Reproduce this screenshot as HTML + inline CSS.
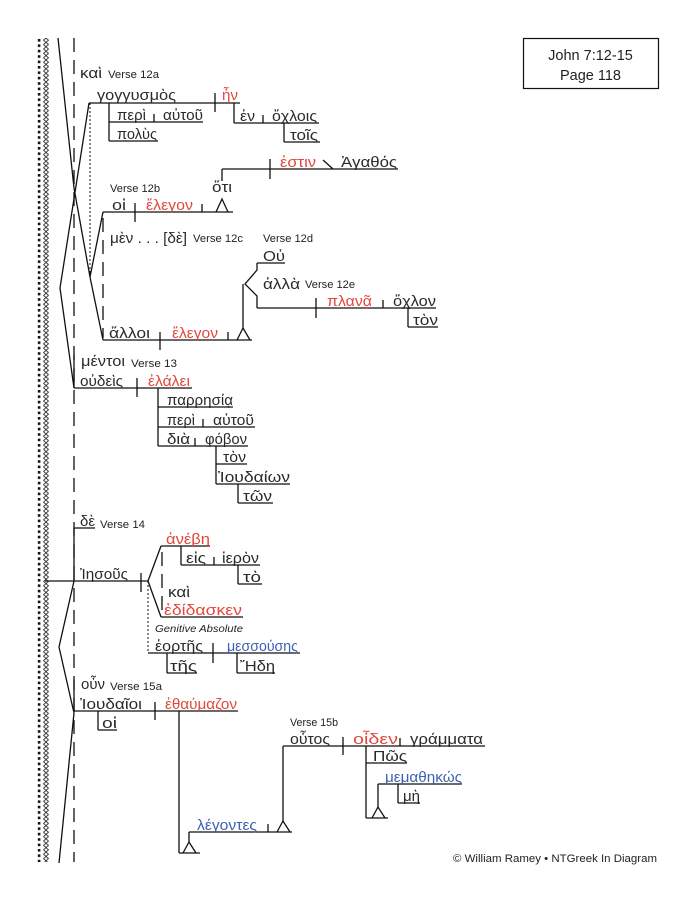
<!DOCTYPE html>
<html>
<head>
<meta charset="utf-8">
<style>
html,body{margin:0;padding:0;background:#fff;}
svg{display:block;}
.g{font-family:"Liberation Sans","DejaVu Sans",sans-serif;font-size:15px;fill:#2a2a2a;}
.r{fill:#e2473b;}
.b{fill:#3d62b3;}
.v{font-family:"Liberation Sans",sans-serif;font-size:11px;fill:#222;}
.gi{font-family:"Liberation Sans",sans-serif;font-size:10.5px;font-style:italic;fill:#222;}
.bx{font-family:"Liberation Sans",sans-serif;font-size:14.5px;fill:#222;}
.ft{font-family:"Liberation Sans",sans-serif;font-size:11px;fill:#222;}
</style>
</head>
<body>
<svg width="693" height="899" viewBox="0 0 693 899" xmlns="http://www.w3.org/2000/svg">
<defs>
<pattern id="dots" x="37.5" y="38" width="4" height="5.4" patternUnits="userSpaceOnUse">
<rect x="0.3" y="1" width="2.6" height="2.6" fill="#111"/>
</pattern>
<pattern id="dia" x="43" y="38" width="6" height="4.4" patternUnits="userSpaceOnUse">
<path d="M3,0 L5.5,2.2 L3,4.4 L0.5,2.2 Z" fill="none" stroke="#333" stroke-width="0.9"/>
</pattern>
</defs>
<rect width="693" height="899" fill="#fff"/>
<!-- left border -->
<rect x="37.5" y="38" width="4" height="824" fill="url(#dots)"/>
<rect x="43" y="38" width="6" height="824" fill="url(#dia)"/>

<g stroke="#111" stroke-width="1.3" fill="none">
<!-- main dashed line -->
<line x1="74" y1="38" x2="74" y2="862" stroke-dasharray="14,8"/>
<!-- solid conjunction segments -->
<line x1="74" y1="355" x2="74" y2="388"/>
<line x1="74" y1="528" x2="74" y2="581"/>
<line x1="74" y1="680" x2="74" y2="711"/>
<!-- diagonals top -->
<polyline points="58,38 74,188 90,277"/>
<polyline points="89,103 60,288 74,388"/>
<line x1="90" y1="277" x2="103" y2="212"/>
<line x1="90" y1="277" x2="103" y2="340"/>
<line x1="90" y1="103" x2="90" y2="277" stroke-width="1" stroke-dasharray="2,2"/>
<line x1="103" y1="218" x2="103" y2="338" stroke-dasharray="14,8"/>
<!-- verse 12a -->
<line x1="89" y1="103" x2="240" y2="103"/>
<line x1="215" y1="93" x2="215" y2="112"/>
<line x1="109" y1="103" x2="109" y2="141"/>
<line x1="109" y1="122" x2="203" y2="122"/>
<line x1="154" y1="114" x2="154" y2="122"/>
<line x1="109" y1="141" x2="158" y2="141"/>
<line x1="234" y1="103" x2="234" y2="123"/>
<line x1="234" y1="123" x2="319" y2="123"/>
<line x1="263" y1="115" x2="263" y2="123"/>
<line x1="284" y1="123" x2="284" y2="142"/>
<line x1="284" y1="142" x2="320" y2="142"/>
<!-- hoti clause -->
<line x1="222" y1="169" x2="398" y2="169"/>
<line x1="222" y1="169" x2="222" y2="181"/>
<line x1="270" y1="159" x2="270" y2="179"/>
<line x1="323" y1="160" x2="333" y2="169"/>
<polyline points="216,212 222,199 228,212"/>
<!-- hoi elegon -->
<line x1="103" y1="212" x2="233" y2="212"/>
<line x1="135" y1="203" x2="135" y2="222"/>
<line x1="202" y1="204" x2="202" y2="212"/>
<!-- Ou / alla -->
<line x1="257" y1="263" x2="285" y2="263"/>
<polyline points="257,263 257,270 245,284 257,296 257,308"/>
<line x1="257" y1="308" x2="436" y2="308"/>
<line x1="316" y1="298" x2="316" y2="318"/>
<line x1="383" y1="300" x2="383" y2="308"/>
<line x1="408" y1="308" x2="408" y2="327"/>
<line x1="408" y1="327" x2="438" y2="327"/>
<line x1="243" y1="284" x2="243" y2="329"/>
<polyline points="237,340 243,328 250,340"/>
<!-- alloi elegon -->
<line x1="103" y1="340" x2="252" y2="340"/>
<line x1="160" y1="332" x2="160" y2="350"/>
<line x1="228" y1="332" x2="228" y2="340"/>
<!-- verse 13 -->
<line x1="74" y1="388" x2="192" y2="388"/>
<line x1="137" y1="378" x2="137" y2="397"/>
<line x1="158" y1="388" x2="158" y2="446"/>
<line x1="158" y1="407" x2="233" y2="407"/>
<line x1="158" y1="427" x2="255" y2="427"/>
<line x1="203" y1="419" x2="203" y2="427"/>
<line x1="158" y1="446" x2="248" y2="446"/>
<line x1="195" y1="438" x2="195" y2="446"/>
<line x1="216" y1="446" x2="216" y2="484"/>
<line x1="216" y1="464" x2="247" y2="464"/>
<line x1="216" y1="484" x2="290" y2="484"/>
<line x1="238" y1="484" x2="238" y2="503"/>
<line x1="238" y1="503" x2="273" y2="503"/>
<!-- verse 14 -->
<line x1="74" y1="528" x2="95" y2="528"/>
<line x1="45" y1="581" x2="148" y2="581"/>
<line x1="141" y1="573" x2="141" y2="592"/>
<line x1="148" y1="581" x2="161" y2="546"/>
<line x1="161" y1="546" x2="210" y2="546"/>
<line x1="162" y1="552" x2="162" y2="610" stroke-dasharray="14,8"/>
<line x1="148" y1="581" x2="161" y2="617"/>
<line x1="161" y1="617" x2="243" y2="617"/>
<line x1="181" y1="546" x2="181" y2="565"/>
<line x1="181" y1="565" x2="260" y2="565"/>
<line x1="214" y1="557" x2="214" y2="565"/>
<line x1="238" y1="565" x2="238" y2="584"/>
<line x1="238" y1="584" x2="262" y2="584"/>
<line x1="148" y1="581" x2="148" y2="653" stroke-width="1" stroke-dasharray="2,2"/>
<line x1="148" y1="653" x2="300" y2="653"/>
<line x1="213" y1="643" x2="213" y2="663"/>
<line x1="167" y1="653" x2="167" y2="673"/>
<line x1="167" y1="673" x2="197" y2="673"/>
<line x1="237" y1="653" x2="237" y2="673"/>
<line x1="237" y1="673" x2="275" y2="673"/>
<!-- left vertex verse 14/15 -->
<polyline points="74,581 59,647 74,713 59,863"/>
<!-- verse 15a -->
<line x1="74" y1="711" x2="238" y2="711"/>
<line x1="155" y1="702" x2="155" y2="720"/>
<line x1="98" y1="711" x2="98" y2="730"/>
<line x1="98" y1="730" x2="117" y2="730"/>
<line x1="179" y1="711" x2="179" y2="853"/>
<line x1="179" y1="853" x2="200" y2="853"/>
<polyline points="183,853 189,842 196,853"/>
<line x1="189" y1="832" x2="189" y2="842"/>
<line x1="189" y1="832" x2="292" y2="832"/>
<line x1="268" y1="824" x2="268" y2="832"/>
<polyline points="277,832 283,821 290,832"/>
<line x1="283" y1="746" x2="283" y2="821"/>
<!-- verse 15b -->
<line x1="283" y1="746" x2="485" y2="746"/>
<line x1="343" y1="737" x2="343" y2="755"/>
<line x1="400" y1="738" x2="400" y2="746"/>
<line x1="366" y1="746" x2="366" y2="818"/>
<line x1="366" y1="763" x2="407" y2="763"/>
<line x1="366" y1="818" x2="388" y2="818"/>
<polyline points="372,818 378,807 385,818"/>
<line x1="378" y1="784" x2="378" y2="807"/>
<line x1="378" y1="784" x2="462" y2="784"/>
<line x1="398" y1="784" x2="398" y2="803"/>
<line x1="398" y1="803" x2="420" y2="803"/>
<!-- title box -->
<rect x="523.5" y="38.5" width="135" height="50" stroke-width="1.2"/>
</g>

<!-- title -->
<text class="bx" x="590.5" y="60" text-anchor="middle">John 7:12-15</text>
<text class="bx" x="590.5" y="80" text-anchor="middle">Page 118</text>

<!-- texts -->
<text class="g" x="80" y="78" textLength="22" lengthAdjust="spacingAndGlyphs">καὶ</text>
<text class="v" x="108" y="78" textLength="51" lengthAdjust="spacingAndGlyphs">Verse 12a</text>
<text class="g" x="97" y="100" textLength="79" lengthAdjust="spacingAndGlyphs">γογγυσμὸς</text>
<text class="g r" x="222" y="100" textLength="16" lengthAdjust="spacingAndGlyphs">ἦν</text>
<text class="g" x="117" y="120" textLength="29" lengthAdjust="spacingAndGlyphs">περὶ</text>
<text class="g" x="163" y="120" textLength="40" lengthAdjust="spacingAndGlyphs">αὐτοῦ</text>
<text class="g" x="117" y="139" textLength="40" lengthAdjust="spacingAndGlyphs">πολὺς</text>
<text class="g" x="240" y="121" textLength="15" lengthAdjust="spacingAndGlyphs">ἐν</text>
<text class="g" x="272" y="121" textLength="45" lengthAdjust="spacingAndGlyphs">ὄχλοις</text>
<text class="g" x="290" y="140" textLength="28" lengthAdjust="spacingAndGlyphs">τοῖς</text>
<text class="g r" x="280" y="167" textLength="36" lengthAdjust="spacingAndGlyphs">ἐστιν</text>
<text class="g" x="341" y="167" textLength="56" lengthAdjust="spacingAndGlyphs">Ἀγαθός</text>
<text class="g" x="212" y="192" textLength="20" lengthAdjust="spacingAndGlyphs">ὅτι</text>
<text class="v" x="110" y="192" textLength="50" lengthAdjust="spacingAndGlyphs">Verse 12b</text>
<text class="g" x="112" y="210" textLength="14" lengthAdjust="spacingAndGlyphs">οἱ</text>
<text class="g r" x="146" y="210" textLength="47" lengthAdjust="spacingAndGlyphs">ἔλεγον</text>
<text class="g" x="110" y="243" textLength="77" lengthAdjust="spacingAndGlyphs">μὲν . . . [δὲ]</text>
<text class="v" x="193" y="242" textLength="50" lengthAdjust="spacingAndGlyphs">Verse 12c</text>
<text class="v" x="263" y="242" textLength="50" lengthAdjust="spacingAndGlyphs">Verse 12d</text>
<text class="g" x="263" y="261" textLength="22" lengthAdjust="spacingAndGlyphs">Οὐ</text>
<text class="g" x="263" y="289" textLength="37" lengthAdjust="spacingAndGlyphs">ἀλλὰ</text>
<text class="v" x="305" y="288" textLength="50" lengthAdjust="spacingAndGlyphs">Verse 12e</text>
<text class="g r" x="327" y="306" textLength="45" lengthAdjust="spacingAndGlyphs">πλανᾷ</text>
<text class="g" x="393" y="306" textLength="43" lengthAdjust="spacingAndGlyphs">ὄχλον</text>
<text class="g" x="413" y="325" textLength="25" lengthAdjust="spacingAndGlyphs">τὸν</text>
<text class="g" x="109" y="338" textLength="41" lengthAdjust="spacingAndGlyphs">ἄλλοι</text>
<text class="g r" x="172" y="338" textLength="46" lengthAdjust="spacingAndGlyphs">ἔλεγον</text>
<text class="g" x="81" y="366" textLength="44" lengthAdjust="spacingAndGlyphs">μέντοι</text>
<text class="v" x="131" y="367" textLength="46" lengthAdjust="spacingAndGlyphs">Verse 13</text>
<text class="g" x="80" y="386" textLength="43" lengthAdjust="spacingAndGlyphs">οὐδεὶς</text>
<text class="g r" x="148" y="386" textLength="42" lengthAdjust="spacingAndGlyphs">ἐλάλει</text>
<text class="g" x="167" y="405" textLength="66" lengthAdjust="spacingAndGlyphs">παρρησίᾳ</text>
<text class="g" x="167" y="425" textLength="28" lengthAdjust="spacingAndGlyphs">περὶ</text>
<text class="g" x="213" y="425" textLength="41" lengthAdjust="spacingAndGlyphs">αὐτοῦ</text>
<text class="g" x="167" y="444" textLength="23" lengthAdjust="spacingAndGlyphs">διὰ</text>
<text class="g" x="205" y="444" textLength="42" lengthAdjust="spacingAndGlyphs">φόβον</text>
<text class="g" x="223" y="462" textLength="23" lengthAdjust="spacingAndGlyphs">τὸν</text>
<text class="g" x="218" y="482" textLength="72" lengthAdjust="spacingAndGlyphs">Ἰουδαίων</text>
<text class="g" x="243" y="501" textLength="29" lengthAdjust="spacingAndGlyphs">τῶν</text>
<text class="g" x="80" y="526" textLength="15" lengthAdjust="spacingAndGlyphs">δὲ</text>
<text class="v" x="100" y="528" textLength="45" lengthAdjust="spacingAndGlyphs">Verse 14</text>
<text class="g r" x="166" y="544" textLength="44" lengthAdjust="spacingAndGlyphs">ἀνέβη</text>
<text class="g" x="186" y="563" textLength="20" lengthAdjust="spacingAndGlyphs">εἰς</text>
<text class="g" x="222" y="563" textLength="37" lengthAdjust="spacingAndGlyphs">ἱερὸν</text>
<text class="g" x="243" y="582" textLength="18" lengthAdjust="spacingAndGlyphs">τὸ</text>
<text class="g" x="80" y="579" textLength="48" lengthAdjust="spacingAndGlyphs">Ἰησοῦς</text>
<text class="g" x="168" y="597" textLength="22" lengthAdjust="spacingAndGlyphs">καὶ</text>
<text class="g r" x="164" y="615" textLength="78" lengthAdjust="spacingAndGlyphs">ἐδίδασκεν</text>
<text class="gi" x="155" y="632" textLength="88" lengthAdjust="spacingAndGlyphs">Genitive Absolute</text>
<text class="g" x="155" y="651" textLength="48" lengthAdjust="spacingAndGlyphs">ἑορτῆς</text>
<text class="g b" x="227" y="651" textLength="71" lengthAdjust="spacingAndGlyphs">μεσσούσης</text>
<text class="g" x="170" y="671" textLength="27" lengthAdjust="spacingAndGlyphs">τῆς</text>
<text class="g" x="240" y="671" textLength="35" lengthAdjust="spacingAndGlyphs">Ἤδη</text>
<text class="g" x="81" y="689" textLength="24" lengthAdjust="spacingAndGlyphs">οὖν</text>
<text class="v" x="110" y="690" textLength="52" lengthAdjust="spacingAndGlyphs">Verse 15a</text>
<text class="g" x="80" y="709" textLength="62" lengthAdjust="spacingAndGlyphs">Ἰουδαῖοι</text>
<text class="g r" x="165" y="709" textLength="72" lengthAdjust="spacingAndGlyphs">ἐθαύμαζον</text>
<text class="g" x="102" y="728" textLength="15" lengthAdjust="spacingAndGlyphs">οἱ</text>
<text class="g b" x="197" y="830" textLength="60" lengthAdjust="spacingAndGlyphs">λέγοντες</text>
<text class="v" x="290" y="726" textLength="48" lengthAdjust="spacingAndGlyphs">Verse 15b</text>
<text class="g" x="290" y="744" textLength="40" lengthAdjust="spacingAndGlyphs">οὗτος</text>
<text class="g r" x="353" y="744" textLength="45" lengthAdjust="spacingAndGlyphs">οἶδεν</text>
<text class="g" x="410" y="744" textLength="73" lengthAdjust="spacingAndGlyphs">γράμματα</text>
<text class="g" x="373" y="761" textLength="34" lengthAdjust="spacingAndGlyphs">Πῶς</text>
<text class="g b" x="385" y="782" textLength="77" lengthAdjust="spacingAndGlyphs">μεμαθηκώς</text>
<text class="g" x="403" y="801" textLength="17" lengthAdjust="spacingAndGlyphs">μὴ</text>

<!-- footer -->
<text class="ft" x="453" y="862" textLength="204" lengthAdjust="spacingAndGlyphs">© William Ramey • NTGreek In Diagram</text>
</svg>
</body>
</html>
